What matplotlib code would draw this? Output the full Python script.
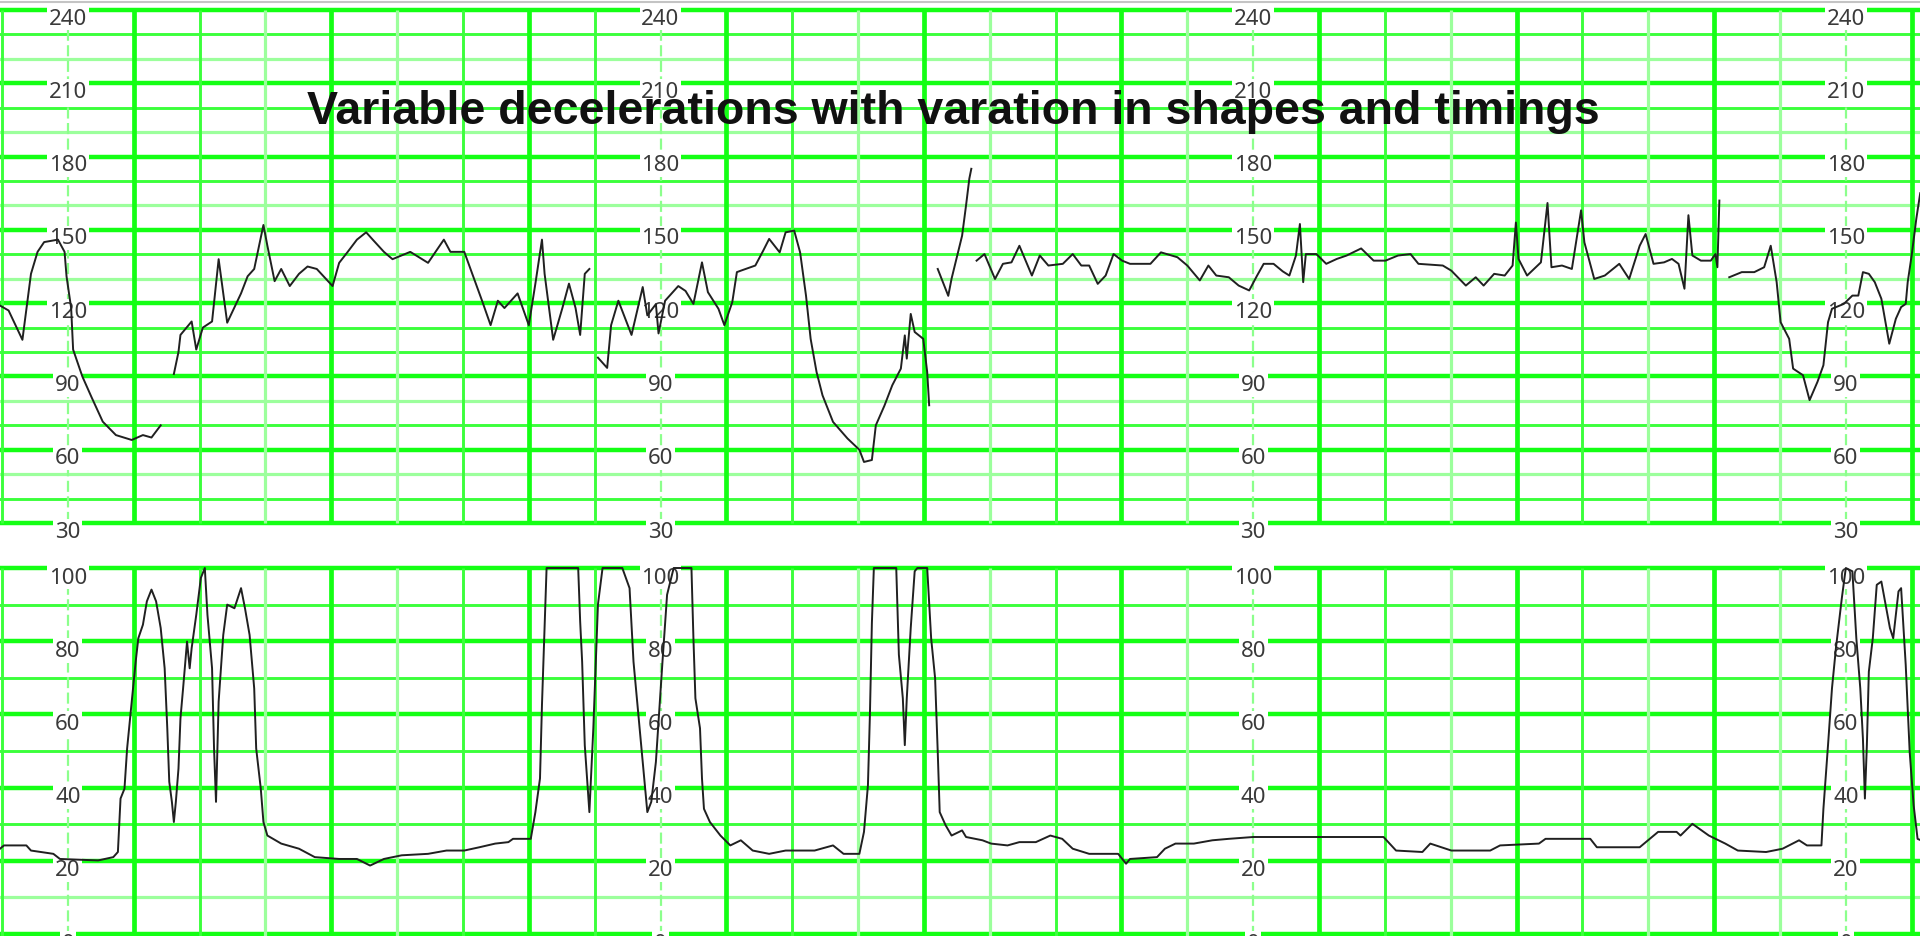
import matplotlib.pyplot as plt
import numpy as np
from matplotlib.lines import Line2D

nan = float('nan')

# Frecuencia cardiaca fetal (x en celdas de la rejilla, lpm); nan = hueco en el registro
fhr_t = [
    -0.03, 0.10, 0.31, 0.44, 0.54, 0.64, 0.85, 0.95, 0.98, 1.05, 1.08, 1.22, 1.36, 1.53, 1.73, 1.97, 2.14, 2.27, 2.41,
    nan,
    2.61, 2.68, 2.71, 2.88, 2.95, 3.05, 3.19, 3.29, 3.42, 3.63, 3.73, 3.83, 3.97, 4.03, 4.14, 4.24, 4.37, 4.51, 4.64,
    4.78, 5.02, 5.12, 5.25, 5.39, 5.53, 5.63, 5.80, 5.93, 6.20, 6.47, 6.71, 6.81, 7.02, 7.29, 7.42, 7.53, 7.63, 7.83,
    8.00, 8.10, 8.20, 8.24, 8.37, 8.51, 8.61, 8.71, 8.78, 8.85, 8.92,
    nan,
    9.05, 9.19, 9.25, 9.36, 9.56, 9.73, 9.80, 9.93, 9.97, 10.07, 10.27, 10.38, 10.50, 10.63, 10.72, 10.88, 10.97,
    11.09, 11.16, 11.22, 11.44, 11.56, 11.65, 11.81, 11.90, 12.03, 12.12, 12.21, 12.28, 12.37, 12.46, 12.62, 12.84,
    13.02, 13.09, 13.21, 13.27, 13.40, 13.52, 13.65, 13.71, 13.74, 13.80, 13.86, 13.99, 14.05, 14.08,
    nan,
    14.21, 14.37, 14.42, 14.58, 14.64, 14.69, 14.72,
    nan,
    14.80, 14.92, 15.08, 15.20, 15.33, 15.45, 15.64, 15.76, 15.89, 16.11, 16.26, 16.39, 16.51, 16.64, 16.76, 16.88,
    17.01, 17.13, 17.44, 17.60, 17.85, 18.00, 18.19, 18.32, 18.44, 18.63, 18.78, 18.94, 19.06, 19.16, 19.31, 19.45,
    19.55, 19.65, 19.71, 19.76, 19.80, 19.96, 20.11, 20.27, 20.42, 20.64, 20.83, 21.01, 21.20, 21.39, 21.51, 21.88,
    22.01, 22.23, 22.38, 22.50, 22.66, 22.82, 22.94, 22.99, 23.03, 23.16, 23.37, 23.47, 23.53, 23.69, 23.84, 23.98,
    24.03, 24.18, 24.34, 24.56, 24.71, 24.87, 24.96, 25.08, 25.24, 25.36, 25.46, 25.55, 25.61, 25.67, 25.80, 25.95,
    26.02, 26.05, 26.08,
    nan,
    26.23, 26.42, 26.61, 26.76, 26.86, 26.95, 27.01, 27.14, 27.20, 27.35, 27.45, 27.57, 27.66, 27.73, 27.79, 27.97,
    28.10, 28.19, 28.26, 28.35, 28.44, 28.54, 28.66, 28.76, 28.84, 28.91, 28.94, 29.00, 29.07, 29.13,
]
fhr_bpm = [
    119, 117, 105, 132, 141, 145, 146, 141, 131, 118, 101, 90, 81.5, 71.5, 66, 64, 66, 65, 70,
    nan,
    91, 100, 107, 112.5, 101, 110, 112.5, 138, 112, 124, 131, 134, 152, 143.5, 129, 134, 127, 132, 135,
    134, 127, 136.5, 141, 146, 149, 146, 141, 138, 141, 136.5, 146, 141, 141, 121, 111, 121, 118, 124,
    111, 128, 146, 132, 105, 118, 128, 118, 107, 132, 134,
    nan,
    97.7, 93.5, 111, 121, 107, 126.6, 115, 119.6, 107.6, 121, 127, 125, 119.7, 136.7, 124.5, 117.7, 111,
    120.4, 132.7, 133.3, 135.4, 141.5, 146.3, 140.8, 149, 149.7, 140.8, 123, 105.4, 91.8, 82.3, 71.4, 64.6,
    60, 55, 55.8, 70, 78, 86.4, 93.2, 106.8, 97.3, 115.6, 108.2, 105.4, 91.8, 78.2,
    nan,
    134, 123, 130, 147.6, 160, 171, 175,
    nan,
    137.4, 140.1, 129.9, 136.1, 136.7, 143.5, 131.3, 139.5, 135.4, 136.1, 140.1, 135.4, 135.4, 127.9, 131.3, 140.1,
    137.4, 136.1, 136.1, 140.8, 138.8, 135.4, 129.3, 135.4, 131.3, 130.6, 127.2, 125.2, 131.3, 136.1, 136.1, 133,
    131.3, 139.5, 152.4, 128.6, 140.1, 140.1, 136.1, 138.1, 139.5, 142.4, 137.4, 137.4, 139.5, 140.1, 136.1, 135.4,
    133.3, 127.2, 130.6, 127.2, 132, 131.3, 135.4, 153, 138.1, 131.3, 136.7, 161, 134.7, 135.4, 134, 158,
    144.9, 129.9, 131.3, 136.1, 129.9, 143.5, 148.3, 136.1, 136.7, 138.1, 136.1, 125.9, 156, 139.5, 137.4, 137.4,
    140.1, 134.7, 162,
    nan,
    130.6, 132.7, 132.7, 134.7, 143.5, 128.6, 112.2, 105.4, 93.2, 90.5, 80.3, 87.8, 94.6, 112.2, 117.7, 119.7,
    123.1, 123.1, 132.7, 132, 128.6, 121.8, 103.4, 113.6, 118.4, 119.7, 128.6, 139.5, 154.4, 165,
]

# Actividad uterina (x en celdas, valor 0-100)
uc_t = [
    -0.03, 0.03, 0.37, 0.44, 0.78, 0.88, 1.46, 1.69, 1.76, 1.80, 1.86, 1.90, 1.97, 2.03, 2.07, 2.14, 2.20, 2.27,
    2.34, 2.41, 2.47, 2.51, 2.54, 2.58, 2.61, 2.64, 2.68, 2.71, 2.75, 2.81, 2.85, 2.88, 2.95, 3.02, 3.08, 3.12,
    3.19, 3.22, 3.25, 3.29, 3.36, 3.42, 3.53, 3.63, 3.69, 3.76, 3.83, 3.86, 3.93, 3.97, 4.03, 4.24, 4.51, 4.75,
    5.12, 5.39, 5.59, 5.80, 6.07, 6.47, 6.75, 7.02, 7.25, 7.49, 7.69, 7.76, 8.03, 8.10, 8.17, 8.20, 8.27, 8.75,
    8.78, 8.81, 8.85, 8.92, 8.98, 9.05, 9.12, 9.42, 9.53, 9.59, 9.73, 9.80, 9.86, 9.93, 10.03, 10.10, 10.20,
    10.47, 10.50, 10.53, 10.60, 10.63, 10.66, 10.75, 10.91, 11.06, 11.22, 11.40, 11.65, 11.90, 12.34, 12.62,
    12.78, 13.02, 13.09, 13.15, 13.18, 13.21, 13.24, 13.58, 13.62, 13.68, 13.71, 13.74, 13.80, 13.86, 13.90,
    14.05, 14.11, 14.17, 14.21, 14.24, 14.33, 14.42, 14.58, 14.64, 14.89, 15.02, 15.27, 15.45, 15.70, 15.92,
    16.10, 16.26, 16.51, 16.95, 17.07, 17.13, 17.54, 17.66, 17.82, 18.10, 18.38, 18.63, 19.00, 20.14, 20.98,
    21.17, 21.57, 21.69, 22.01, 22.60, 22.75, 23.34, 23.44, 24.12, 24.22, 24.87, 25.15, 25.43, 25.49, 25.67,
    25.92, 26.17, 26.36, 26.79, 27.04, 27.29, 27.41, 27.63, 27.66, 27.73, 27.79, 27.85, 27.94, 28.00, 28.10,
    28.16, 28.22, 28.26, 28.29, 28.32, 28.35, 28.41, 28.47, 28.54, 28.67, 28.72, 28.80, 28.84, 28.91, 28.97,
    29.03, 29.09, 29.14,
]
uc_val = [
    23.3, 24.2, 24.2, 22.8, 21.9, 20.5, 20.1, 21, 22.4, 37, 39.7, 50.7, 63.5, 74.4, 80.8, 84.5, 90.9, 94.1,
    90.9, 83.6, 72.6, 56.2, 41.6, 36.1, 30.6, 36.1, 45.2, 58.9, 67.1, 79.9, 72.6, 78.1, 87.2, 97.3, 100, 87.2,
    72.6, 50.7, 36.1, 63.5, 81.7, 90, 89, 94.5, 89, 81.7, 67.1, 50.7, 39.7, 30.6, 26.9, 24.7, 23.3, 21,
    20.5, 20.5, 18.7, 20.5, 21.5, 21.9, 22.8, 22.8, 23.7, 24.7, 25.1, 26, 26, 33.3, 42.5, 62.6, 100, 100,
    85.4, 74.4, 51.6, 33.3, 56.2, 90, 100, 100, 94.5, 74.4, 47, 33.3, 36.1, 47, 74.4, 92.7, 100,
    100, 80.8, 64.4, 56.2, 42.5, 34.2, 30.6, 26.9, 24.2, 25.6, 22.8, 21.9, 22.8, 22.8, 24.2,
    21.9, 21.9, 27.9, 40.6, 59.8, 84.9, 100, 100, 76.3, 64.4, 51.6, 64.4, 83.6, 99.1, 100,
    100, 80.8, 69.9, 49.8, 33.3, 29.7, 26.9, 28.3, 26.5, 25.6, 24.7, 24.2, 25.1, 25.1, 26.9,
    26, 23.3, 21.9, 21.9, 19.2, 20.5, 21, 23.3, 24.7, 24.7, 25.6, 26, 26.5, 26.5, 26.5,
    22.8, 22.4, 24.7, 22.8, 22.8, 24.2, 24.7, 26, 26, 23.7, 23.7, 27.9, 27.9, 26.9, 30.1,
    26.9, 24.7, 22.8, 22.4, 23.3, 25.6, 24.2, 24.2, 34.2, 51.6, 67.1, 78.1, 91.8, 100, 99.1,
    80.8, 67.1, 53.4, 37, 51.6, 71.7, 80.8, 95.4, 96.3, 83.6, 80.8, 93.6, 94.5, 73.5, 49.8,
    35.2, 26, 25.6,
]

fhr_labels = [240, 210, 180, 150, 120, 90, 60, 30]
uc_labels = [100, 80, 60, 40, 20, 0]
label_cols = [1, 10, 19, 28]
titulo = 'Variable decelerations with varation in shapes and timings'

verde = '#14ff14'
verde_fino = '#3cff3c'
verde_palido = '#9cff9c'
pale_cols = [4, 6, 13, 15, 18, 22, 25, 27]

W, H = 1920, 937
fig = plt.figure(figsize=(W / 100, H / 100), dpi=100)
xlim = (-2 / 65.85, (W - 2) / 65.85)

ax1 = fig.add_axes([0, (H - 548) / H, 1, 548 / H])
ax2 = fig.add_axes([0, 0, 1, 389 / H])
ax1.set_ylim(20.19, 244.5)
ax2.set_ylim(-0.55, 105.74)


def rejilla(ax, y0, y1, gruesas, finas, palidas):
    for v in gruesas:
        ax.axhline(v, color=verde, lw=3.2, zorder=1)
    for v in finas:
        ax.axhline(v, color=verde_fino, lw=2.1, zorder=1)
    for v in palidas:
        ax.axhline(v, color=verde_palido, lw=2.3, zorder=1)
    for n in range(0, 30):
        if n in label_cols:
            ax.vlines(n, y0, y1, color='#8cff8c', lw=1.6, linestyles=(0, (5, 2)), zorder=1)
        elif n % 3 == 2:
            ax.vlines(n, y0, y1, color=verde, lw=3.4, zorder=1)
        elif n in pale_cols:
            ax.vlines(n, y0, y1, color=verde_palido, lw=2.3, zorder=1)
        else:
            ax.vlines(n, y0, y1, color=verde_fino, lw=2.1, zorder=1)
    ax.set_xlim(*xlim)
    ax.axis('off')


rejilla(ax1, 30, 240, range(30, 241, 30), [230, 200, 170, 140, 110, 100, 70, 40], [220, 190, 160, 130, 80, 50])
rejilla(ax2, -1, 100, range(0, 101, 20), [90, 70, 50, 30], [10])

estilo = dict(ha='center', va='center', fontsize=16, color='#3a3a3a', family=['Noto Sans', 'DejaVu Sans'],
              fontstretch='extra-condensed', zorder=2,
              bbox=dict(boxstyle='square,pad=0.08', fc='white', ec='none'))
for c in label_cols:
    for v in fhr_labels:
        ax1.text(c, v - 3.3, str(v), **estilo)
    for v in uc_labels:
        ax2.text(c, v - 2.5, str(v), clip_on=False, **estilo)

ax1.plot(fhr_t, fhr_bpm, color='#202020', lw=1.4, zorder=3)
ax2.plot(uc_t, uc_val, color='#202020', lw=1.4, zorder=3)

fig.add_artist(Line2D([0, 1], [1 - 2.5 / H] * 2, transform=fig.transFigure, color='#c4c4c4', lw=1.5))
fig.text(953.5 / W, 1 - 124 / H, titulo, ha='center', va='baseline', fontsize=33.5,
         fontweight='bold', family=['Liberation Sans', 'DejaVu Sans'], color='#111111', zorder=5)

fig.savefig('out.png', dpi=100)
